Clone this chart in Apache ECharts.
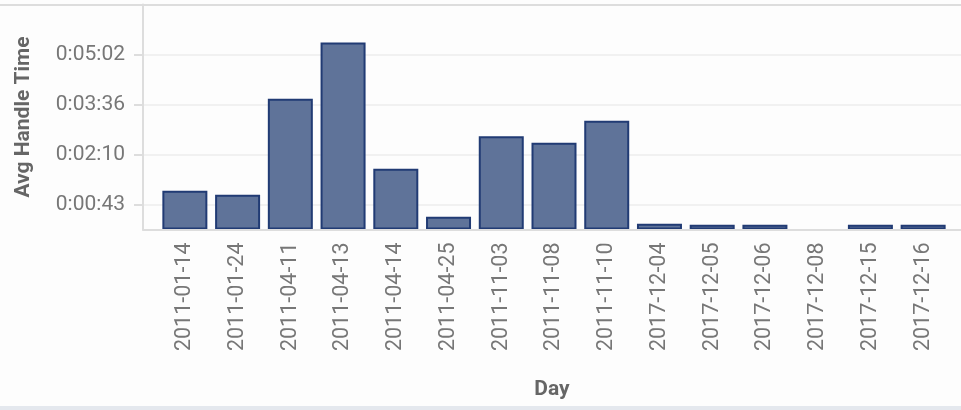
<!DOCTYPE html>
<html>
<head>
<meta charset="utf-8">
<script src="https://cdn.jsdelivr.net/npm/echarts@6/dist/echarts.min.js"></script>
<style>
html,body{margin:0;padding:0;background:#fdfdfd;}
#chart{width:961px;height:410px;}
</style>
</head>
<body>
<div id="chart"></div>
<script>
// Data
var days = ["2011-01-14","2011-01-24","2011-04-11","2011-04-13","2011-04-14","2011-04-25","2011-11-03","2011-11-08","2011-11-10","2017-12-04","2017-12-05","2017-12-06","2017-12-08","2017-12-15","2017-12-16"];
// average handle time in seconds (null = no value)
var avgHandleSeconds = [67, 60, 226, 323, 105, 22, 161, 150, 188, 10, 8, 8, null, 8, 8];
var yTickValues = [43.2, 129.6, 216, 302.4];
var yTickLabels = ["0:00:43", "0:02:10", "0:03:36", "0:05:02"];
var yMax = 388.8;

function fmtTime(v) {
  var i = yTickValues.indexOf(v);
  if (i >= 0) return yTickLabels[i];
  var s = Math.round(v);
  var h = Math.floor(s / 3600), m = Math.floor((s % 3600) / 60), sec = s % 60;
  return h + ':' + (m < 10 ? '0' : '') + m + ':' + (sec < 10 ? '0' : '') + sec;
}

var chart = echarts.init(document.getElementById('chart'), null, {renderer: 'canvas'});
var font = 'Roboto';
var option = {
  backgroundColor: '#fdfdfd',
  animation: false,
  textStyle: {fontFamily: font},
  grid: [
    {left: 143, right: 0, top: 4.5, bottom: 180.5},
    {left: 158.5, right: 11.5, top: 4.5, bottom: 180.5}
  ],
  xAxis: [
    {
      gridIndex: 0, type: 'value', min: 0, max: 1, z: 5,
      axisLine: {show: true, lineStyle: {color: '#dddddd', width: 2}},
      axisTick: {show: false}, axisLabel: {show: false}, splitLine: {show: false},
      name: 'Day', nameLocation: 'middle', nameGap: 150,
      nameTextStyle: {fontFamily: font, fontSize: 21, fontWeight: 'bold', color: '#666666'}
    },
    {
      gridIndex: 1, type: 'category', data: days,
      axisLine: {show: false}, axisTick: {show: false},
      axisLabel: {rotate: 90, margin: 13, fontFamily: font, fontSize: 21.5, color: '#777777', interval: 0}
    }
  ],
  yAxis: [
    {
      gridIndex: 0, type: 'value', min: 0, max: yMax,
      axisLine: {show: true, lineStyle: {color: '#dddddd', width: 2}},
      axisTick: {show: true, customValues: yTickValues, length: 9, lineStyle: {color: '#dddddd', width: 2}},
      axisLabel: {customValues: yTickValues, formatter: fmtTime, margin: 18, fontFamily: font, fontSize: 21, color: '#777777'},
      splitLine: {show: true, lineStyle: {color: '#f1f1f1', width: 2}},
      name: 'Avg Handle Time', nameLocation: 'middle', nameGap: 109,
      nameTextStyle: {fontFamily: font, fontSize: 21, fontWeight: 'bold', color: '#666666'}
    },
    {
      gridIndex: 1, type: 'value', min: 0, max: yMax, show: false,
      splitLine: {show: false}
    }
  ],
  series: [{
    type: 'bar', xAxisIndex: 1, yAxisIndex: 1,
    data: avgHandleSeconds,
    barWidth: 45,
    itemStyle: {color: '#5f7399', borderColor: '#213b74', borderWidth: 2}
  }],
  graphic: [
    {type: 'line', shape: {x1: 0, y1: 5, x2: 961, y2: 5}, style: {stroke: '#dddddd', lineWidth: 2}, z: 10},
    {type: 'rect', shape: {x: 0, y: 406, width: 961, height: 4}, style: {fill: '#e4e8ee'}, z: 10}
  ]
};
chart.setOption(option);
</script>
</body>
</html>
